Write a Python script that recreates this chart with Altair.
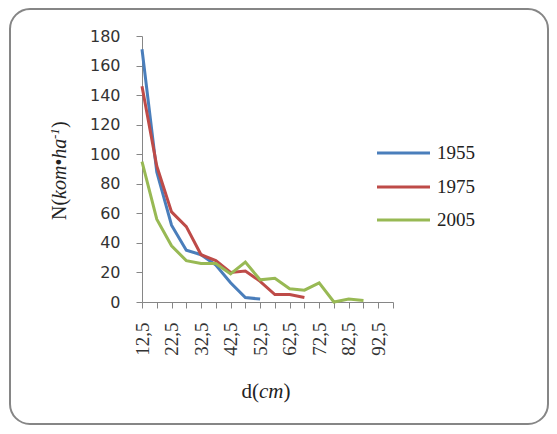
import altair as alt
import pandas as pd

# ---- data ----
diameters = [12.5, 17.5, 22.5, 27.5, 32.5, 37.5, 42.5, 47.5, 52.5,
             57.5, 62.5, 67.5, 72.5, 77.5, 82.5, 87.5]
years = ["1955", "1975", "2005"]
n_1955 = [171, 88, 52, 35, 32, 25, 13, 3, 2]
n_1975 = [146, 92, 61, 51, 32, 28, 20, 21, 14, 5, 5, 3]
n_2005 = [95, 56, 38, 28, 26, 26, 19, 27, 15, 16, 9, 8, 13, 0, 2, 1]
x_ticks = [12.5 + 5 * i for i in range(18)]
y_ticks = [0, 20, 40, 60, 80, 100, 120, 140, 160, 180]
colors = ["#4A7EBB", "#BE4B48", "#98B954"]

rows = []
for yr, vals in zip(years, [n_1955, n_1975, n_2005]):
    for d, v in zip(diameters, vals):
        rows.append({"d": d, "N": v, "year": yr})
df = pd.DataFrame(rows)
legend_df = pd.DataFrame({"year": years})
one = pd.DataFrame({"k": [0]})

GRAY = "#868686"
color_scale = alt.Scale(domain=years, range=colors)

lines = alt.Chart(df).mark_line(strokeWidth=3).encode(
    x=alt.X("d:Q",
            scale=alt.Scale(domain=[12.5, 97.5], nice=False, zero=False),
            axis=alt.Axis(values=x_ticks, title=None, grid=False,
                          labelExpr="((datum.value - 12.5) % 10 == 0) ? replace(format(datum.value, '.1f'), '.', ',') : ''",
                          labelAngle=270, labelAlign="right", labelBaseline="middle",
                          labelFont="Liberation Serif", labelFontSize=19, labelColor="#333333",
                          labelOverlap=False, labelFlush=False, labelPadding=14,
                          tickSize=6, tickColor=GRAY, domainColor=GRAY)),
    y=alt.Y("N:Q",
            scale=alt.Scale(domain=[0, 180], nice=False),
            axis=alt.Axis(values=y_ticks, title=None, grid=False,
                          labelFont="DejaVu Sans", labelFontSize=16, labelColor="#333333",
                          labelPadding=16, tickSize=6, tickColor=GRAY, domainColor=GRAY)),
    color=alt.Color("year:N", scale=color_scale, legend=None),
    order="d:Q",
)

# frame
frame = alt.Chart(one).mark_rect(filled=False, stroke=GRAY, strokeWidth=2, cornerRadius=20).encode(
    x=alt.value(-132), x2=alt.value(406), y=alt.value(-27), y2=alt.value(388)
)

# legend (one entry per year, drawn at legend slots)
legend_slots = [117, 151, 184]
legend_layers = []
for yr, slot in zip(years, legend_slots):
    base = alt.Chart(legend_df).transform_filter(alt.datum.year == yr)
    legend_layers.append(base.mark_rule(strokeWidth=3).encode(
        x=alt.value(235), x2=alt.value(288), y=alt.value(slot),
        color=alt.Color("year:N", scale=color_scale, legend=None),
    ))
    legend_layers.append(base.mark_text(
        align="left", baseline="middle", font="Liberation Serif", fontSize=19, color="#222222"
    ).encode(x=alt.value(295), y=alt.value(slot), text="year:N"))

# y title: N(kom•ha-1)
def ytxt(txt, y, x=-76, size=20, italic=False):
    return alt.Chart(one).mark_text(
        text=txt, angle=270, align="left", baseline="alphabetic",
        font="Liberation Serif", fontSize=size, fontStyle="italic" if italic else "normal",
        color="#222222"
    ).encode(x=alt.value(x), y=alt.value(y))

yt = [ytxt("N(", 184), ytxt("kom•ha", 163, italic=True),
      ytxt("-1", 103, x=-83, size=13, italic=True), ytxt(")", 92)]

# x title: d(cm)
def xtxt(txt, x, italic=False):
    return alt.Chart(one).mark_text(
        text=txt, align="left", baseline="alphabetic",
        font="Liberation Serif", fontSize=21, fontStyle="italic" if italic else "normal",
        color="#222222"
    ).encode(x=alt.value(x), y=alt.value(362))

xt = [xtxt("d(", 99.5), xtxt("cm", 117, italic=True), xtxt(")", 141.5)]

chart = alt.layer(frame, lines, *legend_layers, *yt, *xt).properties(
    width=251, height=266,
    autosize=alt.AutoSizeParams(type="none"),
    padding={"left": 134, "top": 28, "right": 156, "bottom": 124},
    background="white",
).configure_view(stroke=None)

chart.save("out.html", embed_options={"renderer": "svg", "actions": False})
